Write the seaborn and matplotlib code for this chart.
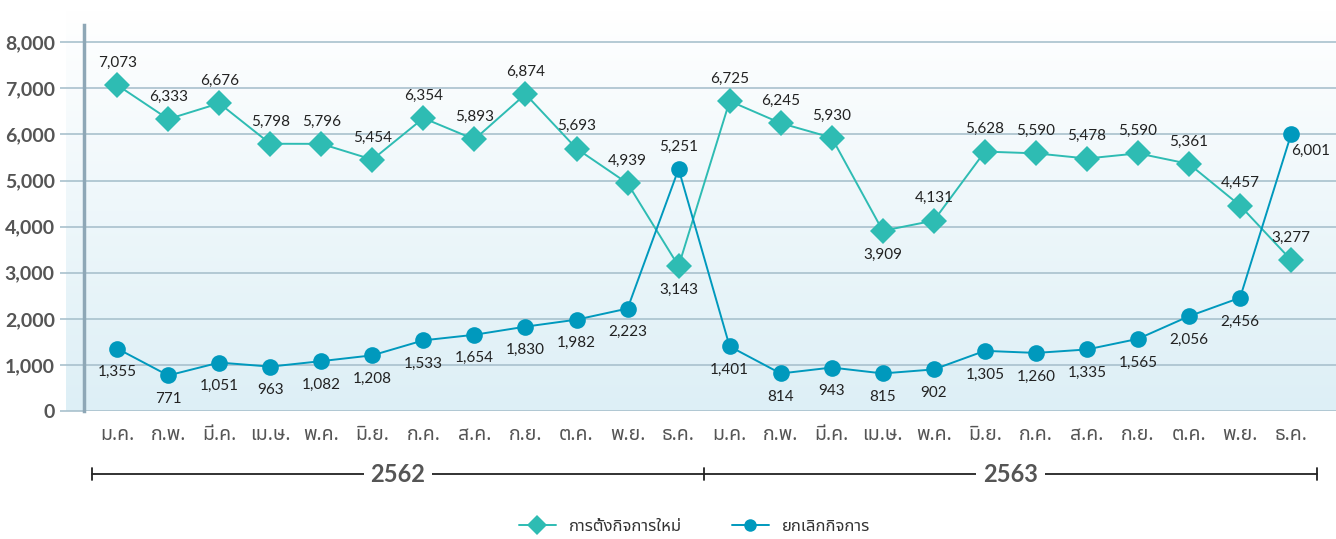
import numpy as np
import pandas as pd
import matplotlib
matplotlib.use("Agg")
import matplotlib.pyplot as plt
import matplotlib.transforms as mtransforms
import seaborn as sns
from matplotlib import font_manager
from matplotlib.ft2font import FT2Font

# data
months = ["ม.ค.", "ก.พ.", "มี.ค.", "เม.ษ.", "พ.ค.", "มิ.ย.", "ก.ค.", "ส.ค.", "ก.ย.", "ต.ค.", "พ.ย.", "ธ.ค."]
years = ["2562", "2563"]
new_biz = [7073, 6333, 6676, 5798, 5796, 5454, 6354, 5893, 6874, 5693, 4939, 3143,
           6725, 6245, 5930, 3909, 4131, 5628, 5590, 5478, 5590, 5361, 4457, 3277]
closed_biz = [1355, 771, 1051, 963, 1082, 1208, 1533, 1654, 1830, 1982, 2223, 5251,
              1401, 814, 943, 815, 902, 1305, 1260, 1335, 1565, 2056, 2456, 6001]
series_names = ["การตั้งกิจการใหม่", "ยกเลิกกิจการ"]
new_below = [11, 15]       # labels drawn under the marker
closed_above = [11]

# find a font with Thai glyphs
thai_font = None
names = []
for f in font_manager.fontManager.ttflist:
    try:
        if 0x0E01 in FT2Font(f.fname).get_charmap():
            names.append(f.name)
    except Exception:
        pass
for pref in ["Noto Sans Thai", "Sarabun", "Loma", "Garuda", "Tlwg Typo", "Waree"]:
    if pref in names:
        thai_font = pref
        break
if thai_font is None and names:
    thai_font = names[0]

sns.set_theme(style="white")
num_fams = ["Lato", "DejaVu Sans"]
plt.rcParams["font.family"] = num_fams
thai_fams = ([thai_font] if thai_font else []) + ["DejaVu Sans"]

grid_c = "#a9c1cd"
text_c = "#555555"
c_new = "#2ebcb3"
c_closed = "#0099bd"

x = np.arange(len(new_biz))
df = pd.DataFrame({"x": x, "new": new_biz, "closed": closed_biz})

fig = plt.figure(figsize=(13.36, 5.39), dpi=100)
ax = fig.add_axes([84 / 1336, 1 - 411 / 539, 1 - 84 / 1336, 401 / 539])

xmin, xmax = -0.65, 23.88
ymax = 8700
ax.set_xlim(xmin, xmax)
ax.set_ylim(0, ymax)

# background gradient
grad = np.linspace(0, 1, 256).reshape(-1, 1)
cmap = matplotlib.colors.LinearSegmentedColormap.from_list("bg", ["#ddeff6", "#ffffff"])
ax.imshow(grad, cmap=cmap, origin="lower", aspect="auto",
          extent=[xmin - 0.35, xmax, 0, ymax], zorder=0, clip_on=False)
ax.set_xlim(xmin, xmax)
ax.set_ylim(0, ymax)

for yv in range(0, 8001, 1000):
    ax.axhline(yv, color=grid_c, lw=1.2, zorder=1)

sns.lineplot(data=df, x="x", y="new", ax=ax, color=c_new, marker="D", markersize=13,
             markeredgewidth=0, lw=1.4, label=series_names[0], zorder=3)
sns.lineplot(data=df, x="x", y="closed", ax=ax, color=c_closed, marker="o", markersize=12,
             markeredgewidth=0, lw=1.4, label=series_names[1], zorder=3)

for i, v in enumerate(new_biz):
    off = -17 if i in new_below else 16
    ax.annotate(f"{v:,}", (i, v), xytext=(0, off), textcoords="offset points",
                ha="center", va="center", fontsize=11, color="#222222", zorder=5)
for i, v in enumerate(closed_biz):
    if i in closed_above:
        off = (0, 16)
    elif i == 23:
        off = (14, -12)
    else:
        off = (0, -17)
    ax.annotate(f"{v:,}", (i, v), xytext=off, textcoords="offset points",
                ha="center", va="center", fontsize=11, color="#222222", zorder=5)

# axes styling
for s in ["top", "right", "bottom"]:
    ax.spines[s].set_visible(False)
ax.spines["left"].set_color("#8ea7b6")
ax.spines["left"].set_linewidth(2.5)
ax.spines["left"].set_bounds(0, 8370)
ax.set_yticks(range(0, 8001, 1000))
ax.set_yticklabels([f"{v:,}" for v in range(0, 8001, 1000)], fontsize=14,
                   color=text_c, fontweight="bold")
ax.tick_params(axis="y", length=17, width=1.2, color=grid_c, pad=4, left=True)
ax.set_xticks(x)
ax.set_xticklabels(months * 2, fontsize=14, color=text_c, family=thai_fams)
ax.tick_params(axis="x", length=0, pad=10)
ax.set_xlabel("")
ax.set_ylabel("")
ax.legend_.remove()

# year bracket
tr = mtransforms.blended_transform_factory(ax.transData, fig.transFigure)
yb = 1 - 474 / 539
ax.plot([-0.5, 23.5], [yb, yb], transform=tr, color="#222222", lw=1.3, clip_on=False)
for xb in [-0.5, 11.5, 23.5]:
    ax.plot([xb, xb], [yb - 0.012, yb + 0.012], transform=tr, color="#222222", lw=1.3, clip_on=False)
for xc, yr in zip([5.5, 17.5], years):
    ax.text(xc, yb, yr, transform=tr, ha="center", va="center", fontsize=17,
            fontweight="bold", color=text_c,
            bbox=dict(facecolor="white", edgecolor="none", pad=5))

h, l = ax.get_legend_handles_labels()
fig.legend(h, l, loc="center", bbox_to_anchor=(0.52, 1 - 527 / 539), ncol=2,
           frameon=False, prop={"family": thai_fams, "size": 12}, columnspacing=3,
           handlelength=2.2, markerscale=0.75, labelcolor="#333333")

fig.savefig("out.png", dpi=100)
